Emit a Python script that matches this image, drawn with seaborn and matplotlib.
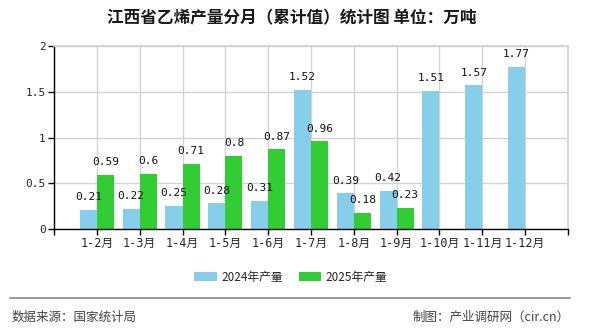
import numpy as np
import pandas as pd
import matplotlib
matplotlib.use("Agg")
import matplotlib.pyplot as plt
from matplotlib.lines import Line2D
import seaborn as sns

categories = ["1-2月", "1-3月", "1-4月", "1-5月", "1-6月", "1-7月",
              "1-8月", "1-9月", "1-10月", "1-11月", "1-12月"]
series_names = ["2024年产量", "2025年产量"]
values_2024 = [0.21, 0.22, 0.25, 0.28, 0.31, 1.52, 0.39, 0.42, 1.51, 1.57, 1.77]
values_2025 = [0.59, 0.6, 0.71, 0.8, 0.87, 0.96, 0.18, 0.23, np.nan, np.nan, np.nan]
y_ticks = [0, 0.5, 1, 1.5, 2]
y_tick_labels = ["0", "0.5", "1", "1.5", "2"]
title = "江西省乙烯产量分月（累计值）统计图 单位：万吨"
source_text = "数据来源：国家统计局"
credit_text = "制图：产业调研网（cir.cn）"
colors = ["#87CEEB", "#32CD32"]

df = pd.DataFrame({
    "月份": categories * 2,
    "系列": [series_names[0]] * len(categories) + [series_names[1]] * len(categories),
    "产量": values_2024 + values_2025,
})

sns.set_theme(style="white")
plt.rcParams["font.family"] = ["Noto Sans CJK SC", "DejaVu Sans"]
mono = ["DejaVu Sans Mono", "Noto Sans CJK SC"]

fig = plt.figure(figsize=(5.9, 3.3), dpi=100)
ax = fig.add_axes([54 / 590, 1 - 229 / 330, (568 - 54) / 590, (229 - 46) / 330])

sns.barplot(data=df, x="月份", y="产量", hue="系列", order=categories,
            hue_order=series_names, palette=colors, width=0.8, ax=ax,
            saturation=1, legend=True, errorbar=None,
            linewidth=0, edgecolor="none")

# value labels
for cont, vals in zip(ax.containers, [values_2024, values_2025]):
    labs = [f"{v:g}" for v in vals if not np.isnan(v)]
    ax.bar_label(cont, labels=labs, padding=5.5, fontsize=8, family=mono,
                 color="#111111")

ax.set_xlim(-1, len(categories))
ax.set_ylim(0, 2)
ax.set_xticks(range(-1, len(categories) + 1))
ax.set_xticklabels([""] + categories + [""], family=mono, fontsize=8.5)
ax.set_yticks(y_ticks)
ax.set_yticklabels(y_tick_labels, family=mono, fontsize=8)
ax.set_xlabel("")
ax.set_ylabel("")
ax.set_axisbelow(True)
ax.grid(True, color="#d3d3d3", linewidth=1)
ax.tick_params(axis="both", which="both", length=4, width=1, color="black",
               direction="out", bottom=True, left=True, pad=2)
for side in ["top", "right"]:
    ax.spines[side].set_color("#d3d3d3")
for side in ["left", "bottom"]:
    ax.spines[side].set_color("black")
    ax.spines[side].set_linewidth(1)

handles, labels = ax.get_legend_handles_labels()
ax.legend(handles, labels, loc="center", bbox_to_anchor=(291 / 590, 1 - 277 / 330),
          bbox_transform=fig.transFigure, ncol=2, frameon=False, fontsize=8.5,
          handlelength=1.9, handleheight=0.75, handletextpad=0.4,
          columnspacing=1.3)

fig.text(292 / 590, 1 - 18 / 330, title, ha="center", va="center",
         fontsize=12, fontweight="bold", color="#1a1a1a")
fig.add_artist(Line2D([10 / 590, 570 / 590], [1 - 298 / 330, 1 - 298 / 330],
                      transform=fig.transFigure, color="#888888", linewidth=1.2))
fig.text(12 / 590, 1 - 317 / 330, source_text, ha="left", va="center",
         fontsize=9, color="#444444")
fig.text(570 / 590, 1 - 317 / 330, credit_text, ha="right", va="center",
         fontsize=9, color="#444444")

fig.savefig("out.png", dpi=100)
